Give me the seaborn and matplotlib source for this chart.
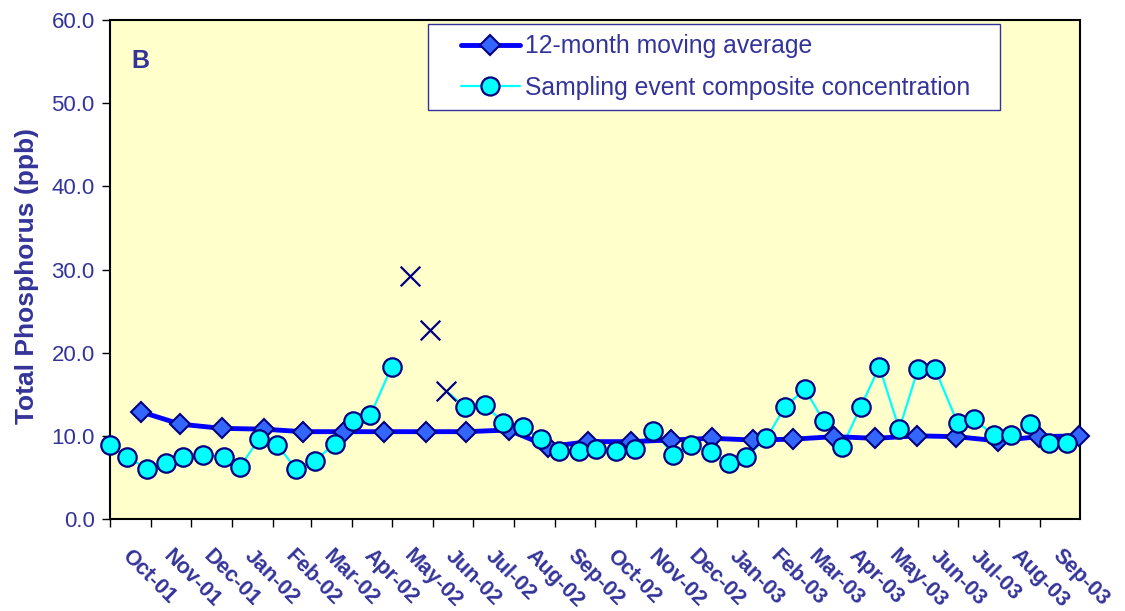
import pandas as pd
import matplotlib.pyplot as plt
import matplotlib.transforms as mtransforms
from matplotlib.lines import Line2D
from matplotlib.legend_handler import HandlerLine2D
from matplotlib.ticker import FormatStrFormatter
import seaborn as sns

# 12-month moving average (one point per month)
avg_dates = ['2001-10-24', '2001-11-23', '2001-12-24', '2002-01-25', '2002-02-23', '2002-03-26',
             '2002-04-25', '2002-05-27', '2002-06-26', '2002-07-28', '2002-08-27', '2002-09-26',
             '2002-10-28', '2002-11-27', '2002-12-28', '2003-01-28', '2003-02-27', '2003-03-30',
             '2003-04-30', '2003-05-31', '2003-06-30', '2003-07-31', '2003-08-31', '2003-09-30']
avg_values = [12.9, 11.4, 10.9, 10.8, 10.5, 10.5, 10.5, 10.5, 10.5, 10.7, 8.7, 9.3,
              9.3, 9.5, 9.7, 9.5, 9.6, 9.9, 9.7, 10.0, 9.9, 9.4, 9.9, 10.0]

# sampling event composite concentrations
sample_dates = ['2001-10-01', '2001-10-14', '2001-10-29', '2001-11-12', '2001-11-25', '2001-12-10',
                '2001-12-26', '2002-01-07', '2002-01-21', '2002-02-04', '2002-02-18', '2002-03-04',
                '2002-03-19', '2002-04-02', '2002-04-15', '2002-05-01', '2002-06-25', '2002-07-10',
                '2002-07-24', '2002-08-08', '2002-08-21', '2002-09-04', '2002-09-19', '2002-10-02',
                '2002-10-17', '2002-10-31', '2002-11-14', '2002-11-29', '2002-12-12', '2002-12-27',
                '2003-01-10', '2003-01-23', '2003-02-07', '2003-02-21', '2003-03-08', '2003-03-22',
                '2003-04-05', '2003-04-19', '2003-05-03', '2003-05-18', '2003-06-01', '2003-06-14',
                '2003-07-01', '2003-07-13', '2003-07-28', '2003-08-10', '2003-08-24', '2003-09-08',
                '2003-09-21']
sample_values = [8.9, 7.5, 6.0, 6.7, 7.5, 7.7, 7.5, 6.3, 9.6, 8.9, 6.0, 7.0,
                 9.0, 11.8, 12.5, 18.3, 13.5, 13.7, 11.6, 11.1, 9.6, 8.2, 8.2, 8.4,
                 8.2, 8.4, 10.6, 7.7, 8.9, 8.0, 6.7, 7.5, 9.7, 13.5, 15.6, 11.8,
                 8.7, 13.5, 18.3, 10.8, 18.0, 18.0, 11.5, 12.0, 10.1, 10.1, 11.4, 9.1,
                 9.1]

# flagged events (drawn as X)
excluded_dates = ['2002-05-15', '2002-05-30', '2002-06-11']
excluded_values = [29.2, 22.7, 15.4]

month_ticks = pd.date_range('2001-10-01', '2003-09-01', freq='MS')

avg = pd.DataFrame({'date': pd.to_datetime(avg_dates), 'tp': avg_values})
samples = pd.DataFrame({'date': pd.to_datetime(sample_dates), 'tp': sample_values})
excluded = pd.DataFrame({'date': pd.to_datetime(excluded_dates), 'tp': excluded_values})

# the thin line breaks going into the flagged points, resumes after the last one
first_bad = excluded['date'].min()
last_bad = excluded['date'].max()
seg_a = samples[samples['date'] < first_bad].assign(seg=0)
seg_b = pd.concat([excluded[excluded['date'] == last_bad],
                   samples[samples['date'] > last_bad]]).assign(seg=1)
line_df = pd.concat([seg_a, seg_b], ignore_index=True)

sns.set_theme(style="white")
plt.rcParams['font.family'] = ['Liberation Sans', 'DejaVu Sans']

navy = '#000080'
text_blue = '#333399'
cyan = '#00FFFF'

fig = plt.figure(figsize=(11.25, 6.11), dpi=100)
ax = fig.add_axes([110 / 1125, 92 / 611, 970 / 1125, 499 / 611])
ax.set_facecolor('#FFFFCC')

sns.lineplot(data=line_df, x='date', y='tp', units='seg', estimator=None,
             color=cyan, lw=1.6, ax=ax, zorder=2)
sns.lineplot(data=avg, x='date', y='tp', color='#0000FF', lw=3.5, marker='D', markersize=10.5,
             markerfacecolor='#3366FF', markeredgecolor=navy, markeredgewidth=1.5,
             ax=ax, zorder=3, clip_on=False)
sns.scatterplot(data=samples, x='date', y='tp', marker='o', s=175, color=cyan,
                edgecolor=navy, linewidth=1.6, ax=ax, zorder=4, clip_on=False)
sns.scatterplot(data=excluded, x='date', y='tp', marker='x', s=200, color=navy,
                linewidth=1.6, ax=ax, zorder=4)

ax.set_xlim(pd.Timestamp('2001-10-01'), pd.Timestamp('2003-10-01'))
ax.set_ylim(0, 60)
ax.set_yticks(range(0, 61, 10))
ax.yaxis.set_major_formatter(FormatStrFormatter('%.1f'))
ax.set_xticks(month_ticks)
ax.set_xticklabels([d.strftime('%b-%y') for d in month_ticks])

for s in ax.spines.values():
    s.set_color('black')
    s.set_linewidth(1.5)

ax.tick_params(axis='both', direction='out', length=6, width=1, color='black',
               bottom=True, left=True)
ax.tick_params(axis='y', labelsize=16, labelcolor=text_blue, pad=5)
ax.tick_params(axis='x', labelsize=15.5, labelcolor=text_blue, pad=13)

shift = mtransforms.ScaledTranslation(0.08, 0, fig.dpi_scale_trans)
for lab in ax.get_xticklabels():
    lab.set_rotation(-45)
    lab.set_ha('left')
    lab.set_va('top')
    lab.set_fontweight('bold')
    lab.set_transform(lab.get_transform() + shift)

ax.set_xlabel('')
ax.set_ylabel('Total Phosphorus (ppb)', fontsize=19, fontweight='bold', color=text_blue)
ax.yaxis.set_label_coords(-0.073, 0.486)

ax.text(0.031, 0.918, 'B', transform=ax.transAxes, ha='center', va='center',
        fontsize=18, fontweight='bold', color=text_blue)

handles = [
    Line2D([], [], color='#0000FF', lw=3.5, marker='D', markersize=10.5,
           markerfacecolor='#3366FF', markeredgecolor=navy, markeredgewidth=1.5),
    Line2D([], [], color=cyan, lw=1.6, marker='o', markersize=13,
           markerfacecolor=cyan, markeredgecolor=navy, markeredgewidth=1.6),
]
labels = ['12-month moving average', 'Sampling event composite concentration']
hmap = {h: HandlerLine2D(numpoints=1, xpad=0.9) for h in handles}
leg = ax.legend(handles, labels, handler_map=hmap, loc='upper left',
                bbox_to_anchor=(0.328, 0.8196, 0.5895, 0.1724), mode='expand',
                fontsize=17.8, labelcolor=text_blue, frameon=True, fancybox=False,
                facecolor='white', edgecolor=text_blue, framealpha=1,
                handlelength=3.3, handletextpad=0.2, borderpad=0.42,
                labelspacing=0.7, borderaxespad=0)
leg.get_frame().set_linewidth(1.0)

fig.savefig('out.png', dpi=100)
